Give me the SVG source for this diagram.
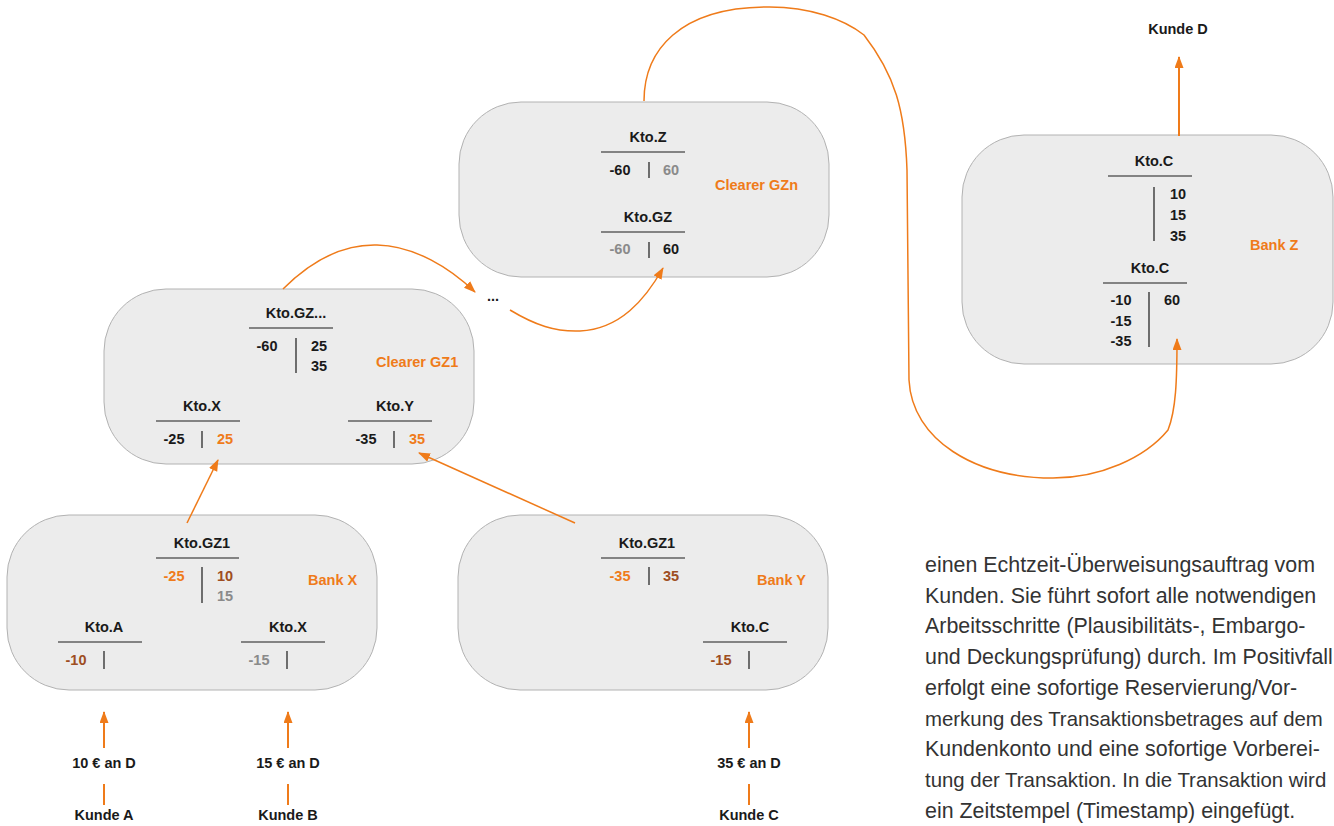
<svg xmlns="http://www.w3.org/2000/svg" width="1334" height="826" viewBox="0 0 1334 826">
<defs>
<style>
.box{fill:#ececec;stroke:#b2b2b2;stroke-width:1}
.t{font-family:"Liberation Sans",Arial,sans-serif;font-weight:bold;font-size:14.5px;fill:#1a1a1a}
.m{text-anchor:middle}
.o{fill:#ef7b1a}
.br{fill:#9e4e22}
.g{fill:#8a8a8a}
.rule{stroke:#1a1a1a;stroke-width:1.2}
.con{fill:none;stroke:#ef7b1a;stroke-width:1.5}
.thick{fill:none;stroke:#ef7b1a;stroke-width:2}
.p{font-family:"Liberation Sans",Arial,sans-serif;font-size:21.4px;fill:#333}
.ps{font-size:20.4px}
</style>
<marker id="ah" markerUnits="userSpaceOnUse" markerWidth="12" markerHeight="10" refX="11" refY="4.5" orient="auto">
<path d="M0,0 L12,4.5 L0,9 z" fill="#ef7b1a"/>
</marker>
</defs>

<g id="clearer-gzn">
<rect class="box" x="459" y="102" width="370" height="175" rx="62"/>
<text class="t m" x="648" y="142">Kto.Z</text>
<line class="rule" x1="601" y1="152" x2="685" y2="152"/>
<text class="t m" x="620" y="175">-60</text>
<line class="rule" x1="649" y1="162" x2="649" y2="178"/>
<text class="t m g" x="671" y="175">60</text>
<text class="t m" x="648" y="222">Kto.GZ</text>
<line class="rule" x1="601" y1="232" x2="685" y2="232"/>
<text class="t m g" x="620" y="254">-60</text>
<line class="rule" x1="649" y1="242" x2="649" y2="258"/>
<text class="t m" x="671" y="254">60</text>
<text class="t o" x="715" y="190">Clearer GZn</text>
</g>

<g id="bank-z">
<rect class="box" x="962" y="135" width="371" height="229" rx="62"/>
<text class="t m" x="1154" y="166">Kto.C</text>
<line class="rule" x1="1108" y1="176" x2="1192" y2="176"/>
<line class="rule" x1="1154" y1="187" x2="1154" y2="241"/>
<text class="t m" x="1178" y="199">10</text>
<text class="t m" x="1178" y="220">15</text>
<text class="t m" x="1178" y="241">35</text>
<text class="t m" x="1150" y="273">Kto.C</text>
<line class="rule" x1="1103" y1="283" x2="1187" y2="283"/>
<line class="rule" x1="1149" y1="292" x2="1149" y2="347"/>
<text class="t m" x="1121" y="305">-10</text>
<text class="t m" x="1121" y="326">-15</text>
<text class="t m" x="1121" y="346">-35</text>
<text class="t m" x="1172" y="305">60</text>
<text class="t o" x="1250" y="250">Bank Z</text>
</g>

<g id="clearer-gz1">
<rect class="box" x="104" y="289" width="370" height="175" rx="62"/>
<text class="t m" x="296" y="318">Kto.GZ...</text>
<line class="rule" x1="249" y1="328" x2="333" y2="328"/>
<line class="rule" x1="296" y1="338" x2="296" y2="373"/>
<text class="t m" x="267" y="351">-60</text>
<text class="t m" x="319" y="351">25</text>
<text class="t m" x="319" y="371">35</text>
<text class="t o" x="376" y="367">Clearer GZ1</text>
<text class="t m" x="202" y="411">Kto.X</text>
<line class="rule" x1="156" y1="421" x2="240" y2="421"/>
<line class="rule" x1="202" y1="431" x2="202" y2="448"/>
<text class="t m" x="174" y="444">-25</text>
<text class="t m o" x="225" y="444">25</text>
<text class="t m" x="395" y="411">Kto.Y</text>
<line class="rule" x1="348" y1="421" x2="432" y2="421"/>
<line class="rule" x1="394" y1="431" x2="394" y2="448"/>
<text class="t m" x="366" y="444">-35</text>
<text class="t m o" x="417" y="444">35</text>
</g>

<g id="bank-x">
<rect class="box" x="7" y="515" width="370" height="175" rx="62"/>
<text class="t m" x="202" y="548">Kto.GZ1</text>
<line class="rule" x1="156" y1="558" x2="239" y2="558"/>
<line class="rule" x1="202" y1="567" x2="202" y2="603"/>
<text class="t m o" x="174" y="581">-25</text>
<text class="t m br" x="225" y="581">10</text>
<text class="t m g" x="225" y="601">15</text>
<text class="t o" x="308" y="585">Bank X</text>
<text class="t m" x="104" y="632">Kto.A</text>
<line class="rule" x1="58" y1="642" x2="142" y2="642"/>
<line class="rule" x1="104" y1="651" x2="104" y2="669"/>
<text class="t m br" x="76" y="665">-10</text>
<text class="t m" x="288" y="632">Kto.X</text>
<line class="rule" x1="241" y1="642" x2="325" y2="642"/>
<line class="rule" x1="287" y1="651" x2="287" y2="669"/>
<text class="t m g" x="259" y="665">-15</text>
</g>

<g id="bank-y">
<rect class="box" x="458" y="515" width="370" height="175" rx="62"/>
<text class="t m" x="647" y="548">Kto.GZ1</text>
<line class="rule" x1="601" y1="558" x2="685" y2="558"/>
<line class="rule" x1="649" y1="567" x2="649" y2="585"/>
<text class="t m o" x="620" y="581">-35</text>
<text class="t m br" x="671" y="581">35</text>
<text class="t o" x="757" y="585">Bank Y</text>
<text class="t m" x="750" y="632">Kto.C</text>
<line class="rule" x1="703" y1="642" x2="787" y2="642"/>
<line class="rule" x1="749" y1="651" x2="749" y2="669"/>
<text class="t m br" x="721" y="665">-15</text>
</g>

<g id="dots">
<text class="t m" x="493" y="301">...</text>
</g>

<g id="customers">
<text class="t m" x="104" y="768">10 € an D</text>
<text class="t m" x="104" y="820">Kunde A</text>
<text class="t m" x="288" y="768">15 € an D</text>
<text class="t m" x="288" y="820">Kunde B</text>
<text class="t m" x="749" y="768">35 € an D</text>
<text class="t m" x="749" y="820">Kunde C</text>
<text class="t m" x="1178" y="34">Kunde D</text>
</g>

<g id="connectors">
<line class="thick" x1="104" y1="748" x2="104" y2="712" marker-end="url(#ah)"/>
<line class="thick" x1="104" y1="784" x2="104" y2="805"/>
<line class="thick" x1="288" y1="748" x2="288" y2="712" marker-end="url(#ah)"/>
<line class="thick" x1="288" y1="784" x2="288" y2="805"/>
<line class="thick" x1="749" y1="748" x2="749" y2="712" marker-end="url(#ah)"/>
<line class="thick" x1="749" y1="784" x2="749" y2="805"/>
<line class="thick" x1="1179" y1="136" x2="1179" y2="57" marker-end="url(#ah)"/>
<line class="con" x1="187" y1="523" x2="218" y2="460" marker-end="url(#ah)"/>
<line class="con" x1="575" y1="523" x2="419" y2="453" marker-end="url(#ah)"/>
<path class="con" d="M283,289 C310,262 340,244 377,245 C415,246 450,268 475,292" marker-end="url(#ah)"/>
<path class="con" d="M510,310 C535,325 555,332 580,331 C620,329 645,300 663,268" marker-end="url(#ah)"/>
<path class="con" d="M644,101 C644,50 680,8 765,7 C810,6 845,20 864,35 C895,75 905,110 907,170 L909,380 C912,440 975,478 1053,478 C1100,478 1145,458 1168,430 C1176,410 1177,380 1177,339" marker-end="url(#ah)"/>
</g>

<g id="paragraph">
<text class="p" x="925" y="572">einen Echtzeit-Überweisungsauftrag vom</text>
<text class="p" x="925" y="603">Kunden. Sie führt sofort alle notwendigen</text>
<text class="p" x="925" y="633">Arbeitsschritte (Plausibilitäts-, Embargo-</text>
<text class="p" x="925" y="664">und Deckungsprüfung) durch. Im Positivfall</text>
<text class="p" x="925" y="695">erfolgt eine sofortige Reservierung/Vor-</text>
<text class="p ps" x="925" y="726">merkung des Transaktionsbetrages auf dem</text>
<text class="p" x="925" y="756">Kundenkonto und eine sofortige Vorberei-</text>
<text class="p ps" x="925" y="787">tung der Transaktion. In die Transaktion wird</text>
<text class="p" x="925" y="818">ein Zeitstempel (Timestamp) eingefügt.</text>
</g>
</svg>
